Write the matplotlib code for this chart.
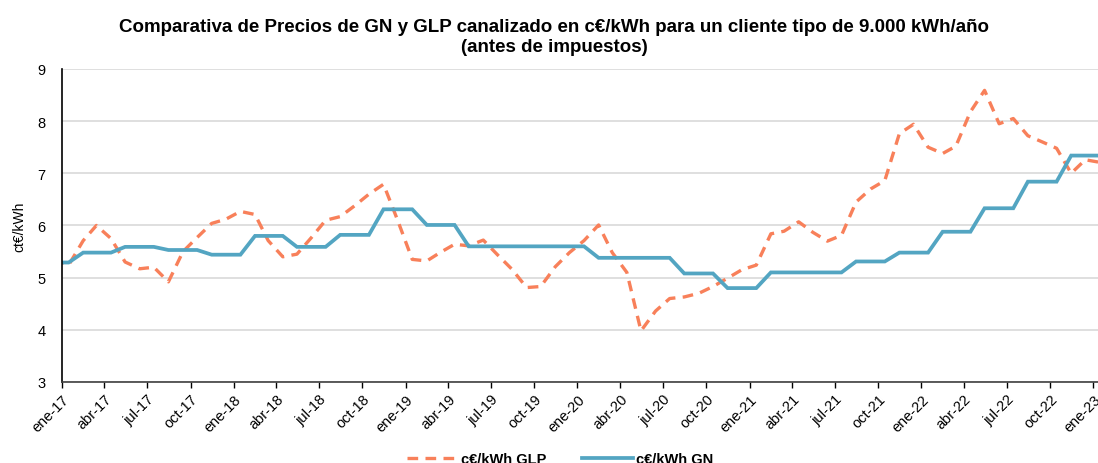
import matplotlib
matplotlib.use("Agg")
import matplotlib.pyplot as plt
import pandas as pd

plt.rcParams['font.family'] = ['Liberation Sans', 'DejaVu Sans']

# monthly data, dic-16 .. ene-23 (plotted mid-month)
months = pd.date_range('2016-12-01', '2023-01-01', freq='MS') + pd.Timedelta(days=14)

glp = [5.35,
       5.24, 5.71, 6.00, 5.75, 5.30, 5.17, 5.20, 4.92, 5.50, 5.77, 6.04, 6.12,
       6.27, 6.21, 5.71, 5.40, 5.45, 5.77, 6.10, 6.17, 6.38, 6.60, 6.79, 6.10,
       5.35, 5.32, 5.48, 5.64, 5.61, 5.72, 5.44, 5.16, 4.81, 4.83, 5.21, 5.48,
       5.71, 6.01, 5.48, 5.10, 3.98, 4.36, 4.60, 4.63, 4.70, 4.83, 4.99, 5.15,
       5.24, 5.84, 5.89, 6.07, 5.87, 5.70, 5.81, 6.45, 6.70, 6.86, 7.76, 7.94,
       7.50, 7.38, 7.52, 8.18, 8.59, 7.95, 8.05, 7.72, 7.60, 7.48, 7.00, 7.26,
       7.21]

gn = [5.29,
      5.29, 5.48, 5.48, 5.48, 5.59, 5.59, 5.59, 5.53, 5.53, 5.53, 5.44, 5.44,
      5.44, 5.80, 5.80, 5.80, 5.59, 5.59, 5.59, 5.82, 5.82, 5.82, 6.31, 6.31,
      6.31, 6.01, 6.01, 6.01, 5.60, 5.60, 5.60, 5.60, 5.60, 5.60, 5.60, 5.60,
      5.60, 5.38, 5.38, 5.38, 5.38, 5.38, 5.38, 5.08, 5.08, 5.08, 4.80, 4.80,
      4.80, 5.10, 5.10, 5.10, 5.10, 5.10, 5.10, 5.31, 5.31, 5.31, 5.48, 5.48,
      5.48, 5.88, 5.88, 5.88, 6.33, 6.33, 6.33, 6.84, 6.84, 6.84, 7.34, 7.34,
      7.34]

tick_dates = pd.date_range('2017-01-01', '2023-01-01', freq='3MS')
mes = {1: 'ene', 4: 'abr', 7: 'jul', 10: 'oct'}
tick_labels = [f"{mes[d.month]}-{d.strftime('%y')}" for d in tick_dates]

title = ("Comparativa de Precios de GN y GLP canalizado en c€/kWh para un cliente tipo de 9.000 kWh/año\n"
         "(antes de impuestos)")

fig = plt.figure(figsize=(10.98, 4.64), dpi=100)
ax = fig.add_axes([0.0565, 0.1746, 0.9435, 0.6746])

ax.plot(months, glp, color='#F8805A', lw=2.4, ls=(0, (3.2, 2.2)), label='c€/kWh GLP',
        dash_capstyle='butt')
ax.plot(months, gn, color='#53A5C2', lw=2.7, label='c€/kWh GN', solid_joinstyle='miter')

ax.set_ylim(3, 9)
ax.set_xlim(pd.Timestamp('2017-01-01'), pd.Timestamp('2023-01-11'))
ax.set_yticks(range(3, 10))
ax.yaxis.grid(True, color='#D9D9D9', lw=1.2)
ax.set_axisbelow(True)
ax.tick_params(axis='y', length=0, labelsize=10.5, pad=12)
ax.set_xticks(tick_dates)
ax.set_xticklabels(tick_labels, rotation=45, ha='right', rotation_mode='anchor', fontsize=10.5)
ax.tick_params(axis='x', length=4, width=1, direction='out', pad=3)
for s in ['top', 'right']:
    ax.spines[s].set_visible(False)
ax.spines['left'].set_color('black')
ax.spines['left'].set_linewidth(1.2)
ax.spines['bottom'].set_color('#404040')
ax.spines['bottom'].set_linewidth(1.2)
ax.set_ylabel('ct€/kWh', fontsize=10, labelpad=8)

fig.text(0.505, 0.96, title, ha='center', va='top', fontsize=13.5, fontweight='bold',
         linespacing=1.3)

fig.legend(loc='lower center', bbox_to_anchor=(0.51, -0.035), ncol=2, frameon=False,
           prop={'size': 10.5, 'weight': 'bold'}, handlelength=3.5, columnspacing=2.4,
           handletextpad=0.2)

fig.savefig('out.png', dpi=100)
